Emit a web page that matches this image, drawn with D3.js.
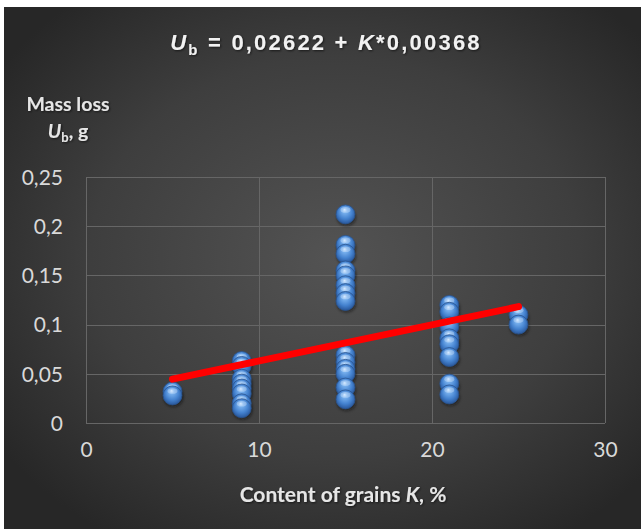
<!DOCTYPE html>
<html><head><meta charset="utf-8">
<script src="https://cdn.jsdelivr.net/npm/d3@7"></script>
<style>html,body{margin:0;padding:0;background:#fff;}svg{display:block;}</style>
</head><body>
<script>
// ---- data ----
const xK5 = [5, 5];
const yK5 = [0.032, 0.028];
const xK9 = [9, 9, 9, 9, 9, 9, 9, 9];
const yK9 = [0.063, 0.058, 0.045, 0.040, 0.035, 0.030, 0.020, 0.015];
const xK15 = [15, 15, 15, 15, 15, 15, 15, 15, 15, 15, 15, 15, 15, 15];
const yK15 = [0.212, 0.181, 0.172, 0.155, 0.150, 0.140, 0.132, 0.124, 0.069, 0.062, 0.055, 0.050, 0.036, 0.024];
const xK21 = [21, 21, 21, 21, 21, 21, 21, 21];
const yK21 = [0.120, 0.113, 0.098, 0.086, 0.080, 0.067, 0.040, 0.029];
const xK25 = [25, 25];
const yK25 = [0.110, 0.100];
const trendIntercept = 0.02622;
const trendSlope = 0.00368;
const trendRange = [5, 25];
const xTicks = [0, 10, 20, 30];
const yTicks = [0, 0.05, 0.1, 0.15, 0.2, 0.25];
const yTickLabels = ["0", "0,05", "0,1", "0,15", "0,2", "0,25"];

const W = 641, H = 529;
const svg = d3.select("body").append("svg").attr("width", W).attr("height", H);
const defs = svg.append("defs");

const bg = defs.append("radialGradient").attr("id","bg").attr("cx","52%").attr("cy","48%").attr("r","64%");
bg.append("stop").attr("offset","0%").attr("stop-color","#535353");
bg.append("stop").attr("offset","60%").attr("stop-color","#3e3e3e");
bg.append("stop").attr("offset","100%").attr("stop-color","#272727");

const mg = defs.append("radialGradient").attr("id","mk").attr("cx","50%").attr("cy","45%").attr("r","55%").attr("fx","45%").attr("fy","25%");
mg.append("stop").attr("offset","0%").attr("stop-color","#cfe6ff");
mg.append("stop").attr("offset","22%").attr("stop-color","#79b1ee");
mg.append("stop").attr("offset","65%").attr("stop-color","#4482cf");
mg.append("stop").attr("offset","100%").attr("stop-color","#28569a");

const blur = defs.append("filter").attr("id","sh").attr("x","-50%").attr("y","-50%").attr("width","200%").attr("height","200%");
blur.append("feGaussianBlur").attr("stdDeviation", 1.6);

const tsh = defs.append("filter").attr("id","tsh").attr("x","-10%").attr("y","-30%").attr("width","120%").attr("height","160%");
tsh.append("feDropShadow").attr("dx",1).attr("dy",1).attr("stdDeviation",1).attr("flood-color","#000").attr("flood-opacity",0.6);

svg.append("rect").attr("x",4).attr("y",7).attr("width",W-4).attr("height",H-7).attr("fill","url(#bg)");

const plot = {l: 86, r: 605, t: 177, b: 423};
const x = d3.scaleLinear().domain([0, 30]).range([plot.l, plot.r]);
const y = d3.scaleLinear().domain([0, 0.25]).range([plot.b, plot.t]);

// gridlines
const grid = svg.append("g");
grid.selectAll(".hg").data(yTicks).join("line")
  .attr("x1", plot.l).attr("x2", plot.r)
  .attr("y1", d => Math.round(y(d)) + 0.5).attr("y2", d => Math.round(y(d)) + 0.5)
  .attr("stroke", "#666666").attr("stroke-width", 1);
grid.selectAll(".vg").data(xTicks).join("line")
  .attr("y1", plot.t).attr("y2", plot.b)
  .attr("x1", d => Math.round(x(d)) + 0.5).attr("x2", d => Math.round(x(d)) + 0.5)
  .attr("stroke", "#666666").attr("stroke-width", 1);

// axes (labels only)
const yAxis = d3.axisLeft(y).tickValues(yTicks).tickFormat((d, i) => yTickLabels[i]).tickSize(0).tickPadding(23);
const gy = svg.append("g").attr("transform", `translate(${plot.l},0)`).call(yAxis);
gy.select(".domain").remove();
gy.selectAll("text").attr("fill", "#d9d9d9").attr("font-size", 21).attr("font-family", "Lato, 'Open Sans', sans-serif").attr("dy", "0.35em");

const xAxis = d3.axisBottom(x).tickValues(xTicks).tickFormat(d => String(d)).tickSize(0).tickPadding(19);
const gx = svg.append("g").attr("transform", `translate(0,${plot.b})`).call(xAxis);
gx.select(".domain").remove();
gx.selectAll("text").attr("fill", "#d9d9d9").attr("font-size", 21).attr("font-family", "Lato, 'Open Sans', sans-serif");

// points
const pts = [];
[[xK5,yK5],[xK9,yK9],[xK15,yK15],[xK21,yK21],[xK25,yK25]].forEach(([xs, ys]) => {
  xs.forEach((v, i) => pts.push({k: v, u: ys[i]}));
});
const R = 9.5;
const pg = svg.append("g");
pg.selectAll(".shadow").data(pts).join("ellipse")
  .attr("cx", d => x(d.k) + 1).attr("cy", d => y(d.u) + 3)
  .attr("rx", R).attr("ry", R - 1)
  .attr("fill", "#0d0d0d").attr("opacity", 0.55).attr("filter", "url(#sh)");
const mk = pg.selectAll(".mk").data(pts).join("g").attr("transform", d => `translate(${x(d.k)},${y(d.u)})`);
mk.append("circle").attr("r", R).attr("fill", "url(#mk)").attr("stroke", "#2b5590").attr("stroke-width", 0.8);
mk.append("ellipse").attr("cx", 0).attr("cy", -4.5).attr("rx", 5).attr("ry", 2.8).attr("fill", "#e6f2ff").attr("opacity", 0.35);

// trendline
const line = d3.line().x(d => x(d)).y(d => y(trendIntercept + trendSlope * d));
svg.append("path").datum(trendRange).attr("d", line)
  .attr("stroke", "#ff0000").attr("stroke-width", 7).attr("stroke-linecap", "round").attr("fill", "none");

// title
const title = svg.append("text").attr("x", 326).attr("y", 50).attr("text-anchor", "middle")
  .attr("fill", "#f2f2f2").attr("font-family", "'Liberation Sans', Arial, sans-serif").attr("font-weight", "bold")
  .attr("font-size", 22).attr("letter-spacing", 2.2).attr("filter", "url(#tsh)");
title.append("tspan").attr("font-style", "italic").text("U");
title.append("tspan").attr("font-size", 15).attr("dy", 5).text("b");
title.append("tspan").attr("dy", -5).text(" = 0,02622 + ");
title.append("tspan").attr("font-style", "italic").text("K");
title.append("tspan").text("*0,00368");

// y axis title
const yt = svg.append("g").attr("fill", "#e6e6e6").attr("font-family", "Lato, 'Open Sans', sans-serif").attr("font-weight", "bold").attr("filter", "url(#tsh)");
yt.append("text").attr("x", 68).attr("y", 111).attr("text-anchor", "middle").attr("font-size", 19.5).text("Mass loss");
const ub = yt.append("text").attr("x", 68).attr("y", 138).attr("text-anchor", "middle").attr("font-size", 19.5);
ub.append("tspan").attr("font-style", "italic").text("U");
ub.append("tspan").attr("font-size", 13).attr("dy", 4).text("b");
ub.append("tspan").attr("dy", -4).text(", g");

// x axis title
const xt = svg.append("text").attr("x", 343).attr("y", 502).attr("text-anchor", "middle")
  .attr("fill", "#e6e6e6").attr("font-family", "Lato, 'Open Sans', sans-serif").attr("font-weight", "bold").attr("font-size", 21).attr("filter", "url(#tsh)");
xt.append("tspan").text("Content of grains ");
xt.append("tspan").attr("font-style", "italic").text("K");
xt.append("tspan").text(", %");
</script>
</body></html>
